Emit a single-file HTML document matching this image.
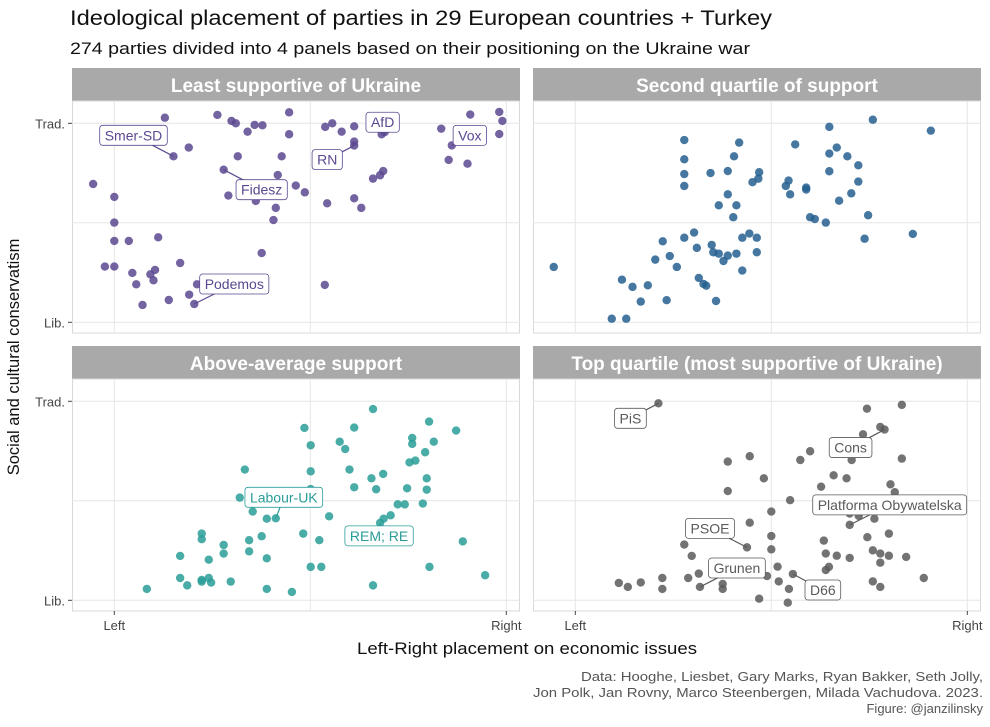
<!DOCTYPE html>
<html><head><meta charset="utf-8"><style>
body{margin:0;background:#fff;width:990px;height:722px;overflow:hidden;font-family:"Liberation Sans",sans-serif}
svg text{font-family:"Liberation Sans",sans-serif}
</style></head><body>
<svg id="chart" width="990" height="722" xmlns="http://www.w3.org/2000/svg">
<rect width="990" height="722" fill="#fff"/>
<text x="70" y="25" font-size="21.5" fill="#111" textLength="702" lengthAdjust="spacingAndGlyphs">Ideological placement of parties in 29 European countries + Turkey</text>
<text x="70" y="54" font-size="16.5" fill="#111" textLength="680" lengthAdjust="spacingAndGlyphs">274 parties divided into 4 panels based on their positioning on the Ukraine war</text>
<text transform="translate(19,357) rotate(-90)" text-anchor="middle" font-size="16.5" fill="#111">Social and cultural conservatism</text>
<text x="357" y="654" font-size="16.5" fill="#111" textLength="340" lengthAdjust="spacingAndGlyphs">Left-Right placement on economic issues</text>
<g font-size="13" fill="#555">
<text x="581" y="681" textLength="402" lengthAdjust="spacingAndGlyphs">Data: Hooghe, Liesbet, Gary Marks, Ryan Bakker, Seth Jolly,</text>
<text x="533" y="697" textLength="450" lengthAdjust="spacingAndGlyphs">Jon Polk, Jan Rovny, Marco Steenbergen, Milada Vachudova. 2023.</text>
<text x="983" y="713" text-anchor="end">Figure: @janzilinsky</text>
</g>
<g id="panels"></g>
</svg>
<script>
const panelTitles = ["Least supportive of Ukraine","Second quartile of support","Above-average support","Top quartile (most supportive of Ukraine)"];
const panelColors = ["#5b4890","#245f8f","#2a9d98","#5a5a5a"];
const xTickLabels = ["Left","Right"];
const yTickLabels = ["Lib.","Trad."];
const p1x=[1.29,2.63,2.99,3.10,3.58,3.78,3.40,4.46,4.46,1.51,1.90,3.15,4.27,2.79,4.17,4.63,4.86,2.91,3.61,4.12,4.06,-0.54,0,0,0,0.37,1.12,-0.24,0,0.46,0.92,1.04,1.00,0.56,1.68,2.11,1.91,1.39,0.72,2.04,3.76,5.37,5.38,5.56,5.80,6.12,6.12,6.12,6.82,6.90,6.60,6.78,6.86,5.43,6.12,6.30,8.34,8.61,8.53,9.01,9.08,9.82,9.90,9.82];
const p1y=[10.28,10.42,10.12,10.0,9.92,9.90,9.58,10.55,9.45,8.34,8.78,8.34,8.34,7.67,7.40,6.87,6.53,6.37,6.10,5.75,5.14,6.95,6.30,5.01,4.09,4.09,4.27,2.80,2.80,2.48,2.41,2.63,2.11,1.91,2.98,1.91,1.39,1.12,0.87,0.92,3.48,1.88,9.82,10.0,9.58,9.85,9.08,8.88,9.45,9.56,7.22,7.39,7.60,5.98,6.23,5.75,9.73,8.89,8.16,7.97,10.44,10.57,10.12,9.46];
const p2x=[-0.55,2.78,2.78,2.78,2.78,3.45,3.89,4.05,4.18,4.69,4.67,4.52,3.89,3.66,4.11,4.03,2.78,3.03,2.23,3.10,3.48,3.52,3.66,3.89,4.11,3.78,4.26,4.44,4.63,4.63,4.26,2.04,2.41,2.59,1.19,1.46,1.85,1.67,2.33,0.93,1.30,3.15,3.27,3.34,3.59,5.61,6.48,7.59,9.07,6.48,6.67,6.94,7.22,6.48,7.22,7.04,6.73,5.44,5.37,5.48,5.89,5.89,5.99,6.11,6.39,7.47,7.38,8.61];
const p2y=[2.78,9.16,8.19,7.45,6.85,7.50,7.60,8.34,9.03,7.54,7.22,7.04,6.43,5.88,5.88,5.28,4.25,4.51,4.07,3.74,3.89,3.52,3.45,3.35,3.45,3.08,4.25,4.46,4.25,3.52,2.60,3.15,3.33,2.78,2.14,1.78,1.86,1.04,1.11,0.18,0.18,2.23,1.93,1.84,1.07,8.94,9.82,10.18,9.63,8.48,8.78,8.34,7.89,7.59,7.07,6.48,6.11,7.12,6.85,6.43,6.77,6.67,5.28,5.19,5.01,5.38,4.20,4.44];
const p3x=[0.83,1.68,1.68,1.86,2.23,2.23,2.23,2.23,2.41,2.41,2.47,2.79,2.79,2.97,3.33,3.20,3.53,3.89,4.12,3.44,3.44,3.76,3.89,3.89,4.53,4.82,5.01,5.23,5.28,5.48,4.85,5.01,5.01,5.01,5.75,5.89,6.12,6.00,6.12,6.60,6.56,6.86,6.68,7.23,7.41,7.05,6.87,6.78,7.47,7.53,7.68,7.60,7.60,8.03,8.15,7.93,7.97,7.97,7.87,8.72,8.89,8.04,6.60,9.46];
const p3y=[0.57,2.23,1.12,0.75,3.35,3.07,1.02,0.94,2.04,1.12,0.89,2.78,2.35,0.94,6.57,5.16,4.46,4.10,4.12,3.02,2.46,3.22,2.11,0.57,0.42,3.35,1.68,3.02,1.68,4.22,8.66,7.79,6.48,5.59,7.97,7.60,8.68,6.57,5.68,9.61,6.13,6.35,5.58,4.82,4.82,4.27,4.10,3.89,5.63,6.93,7.02,8.16,7.86,8.98,7.97,7.44,6.13,5.56,4.86,8.53,2.96,1.68,0.75,1.26];
const p4x=[2.12,7.44,8.33,7.89,7.78,7.34,7.05,8.33,5.99,5.74,3.89,4.45,4.81,3.89,6.59,6.92,6.27,8.04,8.15,5.48,5.00,7.0,7.23,7.63,7.0,4.45,4.38,5.00,5.00,2.78,2.97,6.34,6.39,6.67,7.0,7.45,8.00,7.59,7.78,8.00,8.44,7.78,6.47,6.39,1.11,1.34,1.67,2.22,2.22,2.88,3.15,3.18,3.76,3.76,4.89,5.16,5.19,5.55,5.45,4.69,5.42,7.59,7.78,8.89];
const p4y=[9.90,9.63,9.82,8.58,8.71,8.34,7.05,7.12,7.49,7.05,6.97,7.24,6.13,5.49,6.28,6.13,5.71,5.83,5.43,5.03,4.46,4.36,4.24,4.10,3.79,3.90,2.66,3.23,2.56,2.80,2.23,3.00,2.35,2.24,2.13,3.17,3.35,2.51,2.35,2.24,2.18,1.89,1.68,1.52,0.87,0.67,0.90,1.12,0.57,1.12,1.34,0.67,0.82,0.57,1.22,1.69,0.95,1.32,0.57,0.08,-0.12,0.95,0.67,1.12];
const seriesX=[p1x,p2x,p3x,p4x];
const seriesY=[p1y,p2y,p3y,p4y];
const labelPanel=[0,0,0,0,0,0,2,2,3,3,3,3,3,3];
const labelIndex=[9,13,39,47,48,57,18,47,0,3,24,26,51,57];
const labelText=["Smer-SD","Fidesz","Podemos","RN","AfD","Vox","Labour-UK","REM; RE","PiS","Cons","Platforma Obywatelska","PSOE","Grunen","D66"];
const labelDx=[-40,38,40,-27,1,18,8,-1,-28,-34,40,-37,37,30];
const labelDy=[-21,20,-20,14,-12,-10,-21,13,15,18,-20,-19,-19,16];

const NS="http://www.w3.org/2000/svg";
const g=document.getElementById('panels');
function mk(tag,attrs,parent){const e=document.createElementNS(NS,tag);for(const k in attrs)e.setAttribute(k,attrs[k]);(parent||g).appendChild(e);return e;}
const panelLeft=[72,533,72,533], panelW=448;
const stripTop=[68,68,346,346], plotTop=[101,101,379,379], plotH=232;
function xs(p,v){return panelLeft[p]+42.3+v*39.2;}
function ys(p,v){return plotTop[p]+221.3-v*19.9;}
for(let p=0;p<4;p++){
  const pg=mk('g',{});
  
  
  const st=mk('rect',{x:panelLeft[p],y:stripTop[p],width:panelW,height:plotTop[p]-stripTop[p],fill:'#a9a9a9'},pg);
  
  
  const stt=mk('text',{x:panelLeft[p]+panelW/2,y:stripTop[p]+24,'text-anchor':'middle','font-size':19,'font-weight':'bold',fill:'#fff'},pg);
  stt.textContent=panelTitles[p];
  
  
  mk('rect',{x:panelLeft[p]+0.5,y:plotTop[p],width:panelW-1,height:plotH,fill:'#fff',stroke:'#d9d9d9'},pg);
  for(const v of [0,5,10]){
    mk('line',{x1:xs(p,v),x2:xs(p,v),y1:plotTop[p],y2:plotTop[p]+plotH,stroke:'#e6e6e6'},pg);
    mk('line',{x1:panelLeft[p],x2:panelLeft[p]+panelW,y1:ys(p,v),y2:ys(p,v),stroke:'#e6e6e6'},pg);
  }
  if(p%2===0){
    [0,10].forEach((v,i)=>{
      const t=mk('text',{x:panelLeft[p]-7,y:ys(p,v)+5,'text-anchor':'end','font-size':13,fill:'#444'},pg);
      t.textContent=yTickLabels[i];
      
      
      mk('line',{x1:panelLeft[p]-4,x2:panelLeft[p],y1:ys(p,v),y2:ys(p,v),stroke:'#444'},pg);
    });
  }
  if(p>=2){
    [0,10].forEach((v,i)=>{
      const t=mk('text',{x:xs(p,v),y:plotTop[p]+plotH+19,'text-anchor':'middle','font-size':13,fill:'#444'},pg);
      t.textContent=xTickLabels[i];
      
      
      mk('line',{x1:xs(p,v),x2:xs(p,v),y1:plotTop[p]+plotH,y2:plotTop[p]+plotH+4,stroke:'#444'},pg);
    });
  }
  const X=seriesX[p],Y=seriesY[p];
  for(let i=0;i<X.length;i++){
    const c=mk('circle',{cx:xs(p,X[i]),cy:ys(p,Y[i]),r:4.2,fill:panelColors[p],'fill-opacity':0.85},pg);
    
    
  }
}
for(let k=0;k<labelText.length;k++){
  const p=labelPanel[k],i=labelIndex[k];
  const px=xs(p,seriesX[p][i]),py=ys(p,seriesY[p][i]);
  const cx=px+labelDx[k],cy=py+labelDy[k];
  const h=20;
  const lg=mk('g',{});
  
  
  mk('line',{x1:px,y1:py,x2:cx,y2:cy,stroke:panelColors[p],'stroke-width':1.2},lg);
  const r=mk('rect',{y:cy-h/2,height:h,rx:3,fill:'#fff',stroke:panelColors[p],'stroke-width':0.8},lg);
  const t=mk('text',{x:cx,y:cy+5,'text-anchor':'middle','font-size':14,fill:panelColors[p]},lg);
  t.textContent=labelText[k];
  const w=t.getComputedTextLength()+10;
  r.setAttribute('x',cx-w/2);
  r.setAttribute('width',w);
}
</script>
</body></html>
